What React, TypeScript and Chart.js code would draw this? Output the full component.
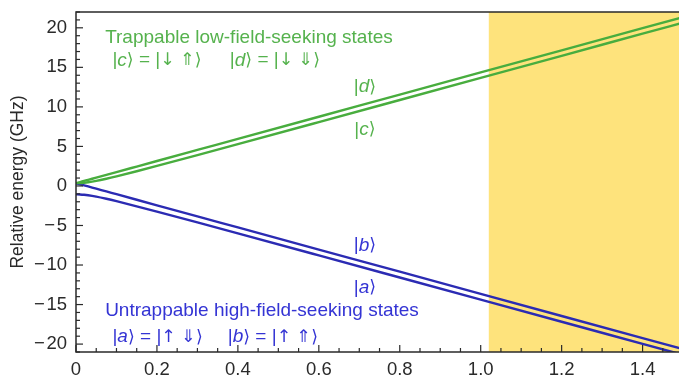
import { useEffect, useRef } from 'react';
import { Chart, registerables } from 'chart.js';

Chart.register(...registerables);

// Magnetic field (T) and energies (GHz)
const fieldT = [0, 0.01, 0.02, 0.03, 0.05, 0.075, 0.1, 0.15, 0.2, 0.3, 0.4, 0.6, 0.8, 1.0, 1.2, 1.4, 1.5];
const stateD = [0.355, 0.495, 0.635, 0.775, 1.055, 1.405, 1.755, 2.455, 3.155, 4.555, 5.955, 8.755, 11.555, 14.355, 17.155, 19.955, 21.355];
const stateC = [0.355, 0.369, 0.408, 0.47, 0.642, 0.913, 1.215, 1.862, 2.534, 3.905, 5.29, 8.076, 10.869, 13.664, 16.461, 19.26, 20.659];
const stateB = [0.355, 0.215, 0.075, -0.065, -0.345, -0.695, -1.045, -1.745, -2.445, -3.845, -5.245, -8.045, -10.845, -13.645, -16.445, -19.245, -20.645];
const stateA = [-1.065, -1.079, -1.118, -1.18, -1.352, -1.623, -1.925, -2.572, -3.244, -4.615, -6.0, -8.786, -11.579, -14.374, -17.171, -19.97, -21.369];

const xRange = [0, 1.49];
const yRange = [-21, 22];
const shadedFrom = 1.02;
const yAxisTitle = 'Relative energy (GHz)';

type Seg = { t: string; it?: boolean; sym?: boolean };
type Note = { segs: Seg[]; x: number; y: number; group: 'trap' | 'untrap'; center?: boolean };

const ket = (l: string): Seg[] => [{ t: '|' }, { t: l, it: true }, { t: '\u27E9', sym: true }];
const spin = (e: string, p: string): Seg[] => [
  { t: ' = |' },
  { t: e, sym: true },
  { t: ' ' },
  { t: p, sym: true },
  { t: '\u27E9', sym: true },
];

const notes: Note[] = [
  { segs: [{ t: 'Trappable low-field-seeking states' }], x: 0.072, y: 18.8, group: 'trap' },
  { segs: [...ket('c'), ...spin('\u2193', '\u21D1')], x: 0.09, y: 15.9, group: 'trap' },
  { segs: [...ket('d'), ...spin('\u2193', '\u21D3')], x: 0.38, y: 15.9, group: 'trap' },
  { segs: ket('d'), x: 0.714, y: 12.5, group: 'trap', center: true },
  { segs: ket('c'), x: 0.714, y: 7.1, group: 'trap', center: true },
  { segs: ket('b'), x: 0.714, y: -7.5, group: 'untrap', center: true },
  { segs: ket('a'), x: 0.714, y: -12.9, group: 'untrap', center: true },
  { segs: [{ t: 'Untrappable high-field-seeking states' }], x: 0.072, y: -15.8, group: 'untrap' },
  { segs: [...ket('a'), ...spin('\u2191', '\u21D3')], x: 0.09, y: -19.1, group: 'untrap' },
  { segs: [...ket('b'), ...spin('\u2191', '\u21D1')], x: 0.375, y: -19.1, group: 'untrap' },
];

const FONT = '"Liberation Sans", "DejaVu Sans", Arial, sans-serif';
const SYM_FONT = '"DejaVu Sans", sans-serif';
const GREEN_LINE = '#48ad3e';
const BLUE_LINE = '#2b2bb3';
const GREEN_TEXT = '#55b24d';
const BLUE_TEXT = '#3434d4';
const AXIS = '#2a2a2a';

function segFont(s: Seg, size: number) {
  if (s.sym) return `${size * 0.92}px ${SYM_FONT}`;
  return `${s.it ? 'italic ' : ''}${size}px ${FONT}`;
}

function richWidth(ctx: CanvasRenderingContext2D, segs: Seg[], size: number) {
  let w = 0;
  for (const s of segs) {
    ctx.font = segFont(s, size);
    w += ctx.measureText(s.t).width;
  }
  return w;
}

const decorPlugin = {
  id: 'decor',
  beforeDatasetsDraw(chart: any) {
    const { ctx, chartArea, scales } = chart;
    const x0 = scales.x.getPixelForValue(shadedFrom);
    ctx.save();
    ctx.fillStyle = '#fee37c';
    ctx.fillRect(x0, chartArea.top, chartArea.right - x0, chartArea.bottom - chartArea.top);
    ctx.restore();
  },
  afterDatasetsDraw(chart: any) {
    const { ctx, chartArea, scales } = chart;
    const { left, right, top, bottom } = chartArea;
    ctx.save();
    ctx.strokeStyle = AXIS;
    ctx.lineWidth = 1.5;
    ctx.beginPath();
    ctx.moveTo(right, top);
    ctx.lineTo(left, top);
    ctx.lineTo(left, bottom);
    ctx.lineTo(right, bottom);
    ctx.stroke();
    ctx.lineWidth = 1.2;
    for (let i = 0; ; i++) {
      const v = i * 0.05;
      if (v > xRange[1] + 1e-9) break;
      const major = i % 4 === 0;
      const px = scales.x.getPixelForValue(v);
      ctx.beginPath();
      ctx.moveTo(px, bottom);
      ctx.lineTo(px, bottom - (major ? 7 : 4));
      ctx.stroke();
    }
    for (let v = yRange[0]; v <= yRange[1]; v++) {
      const major = v % 5 === 0;
      const py = scales.y.getPixelForValue(v);
      ctx.beginPath();
      ctx.moveTo(left, py);
      ctx.lineTo(left + (major ? 7 : 4), py);
      ctx.stroke();
    }
    ctx.textBaseline = 'middle';
    ctx.textAlign = 'left';
    const size = 19;
    for (const n of notes) {
      ctx.fillStyle = n.group === 'trap' ? GREEN_TEXT : BLUE_TEXT;
      let cx = scales.x.getPixelForValue(n.x);
      const cy = scales.y.getPixelForValue(n.y);
      if (n.center) cx -= richWidth(ctx, n.segs, size) / 2;
      for (const s of n.segs) {
        ctx.font = segFont(s, size);
        ctx.fillText(s.t, cx, cy);
        cx += ctx.measureText(s.t).width;
      }
    }
    ctx.fillStyle = AXIS;
    ctx.font = `17.5px ${FONT}`;
    ctx.textAlign = 'center';
    ctx.translate(18, (top + bottom) / 2);
    ctx.rotate(-Math.PI / 2);
    ctx.fillText(yAxisTitle, 0, 0);
    ctx.restore();
  },
};

const near = (v: number, step: number) => Math.abs(v / step - Math.round(v / step)) < 1e-6;

export default function App() {
  const ref = useRef<HTMLCanvasElement | null>(null);
  useEffect(() => {
    document.body.style.margin = '0';
    if (!ref.current) return;
    const mk = (vals: number[]) => fieldT.map((x, i) => ({ x, y: vals[i] }));
    const ds = (vals: number[], color: string) => ({
      data: mk(vals),
      borderColor: color,
      borderWidth: 2.4,
      pointRadius: 0,
      fill: false,
      cubicInterpolationMode: 'monotone' as const,
    });
    const noPad = (s: any) => {
      s.paddingTop = 0;
      s.paddingBottom = 0;
      s.paddingLeft = 0;
      s.paddingRight = 0;
    };
    const chart = new Chart(ref.current, {
      type: 'line',
      data: {
        datasets: [ds(stateD, GREEN_LINE), ds(stateC, GREEN_LINE), ds(stateB, BLUE_LINE), ds(stateA, BLUE_LINE)],
      },
      options: {
        animation: false,
        responsive: false,
        layout: { padding: { top: 12, left: 0, right: 0, bottom: 0 } },
        plugins: { legend: { display: false }, tooltip: { enabled: false } },
        scales: {
          x: {
            type: 'linear',
            min: xRange[0],
            max: xRange[1],
            grid: { display: false, drawTicks: false },
            border: { display: false },
            ticks: {
              stepSize: 0.05,
              autoSkip: false,
              maxRotation: 0,
              padding: 7,
              color: AXIS,
              font: { size: 18.5, family: FONT },
              callback: (v: any) => (near(Number(v), 0.2) ? (Number(v) === 0 ? '0' : Number(v).toFixed(1)) : ''),
            },
            afterFit: (s: any) => {
              s.height = 33;
              noPad(s);
            },
          },
          y: {
            type: 'linear',
            min: yRange[0],
            max: yRange[1],
            grid: { display: false, drawTicks: false },
            border: { display: false },
            ticks: {
              stepSize: 1,
              autoSkip: false,
              padding: 9,
              color: AXIS,
              font: { size: 18.5, family: FONT },
              callback: (v: any) => {
                const n = Number(v);
                if (n % 5 !== 0) return '';
                return n < 0 ? '\u2212\u200A' + Math.abs(n) : String(n);
              },
            },
            afterFit: (s: any) => {
              s.width = 76;
              noPad(s);
            },
          },
        },
      },
      plugins: [decorPlugin],
    });
    return () => chart.destroy();
  }, []);
  return (
    <div style={{ width: 679, height: 385 }}>
      <canvas ref={ref} width={679} height={385} />
    </div>
  );
}
